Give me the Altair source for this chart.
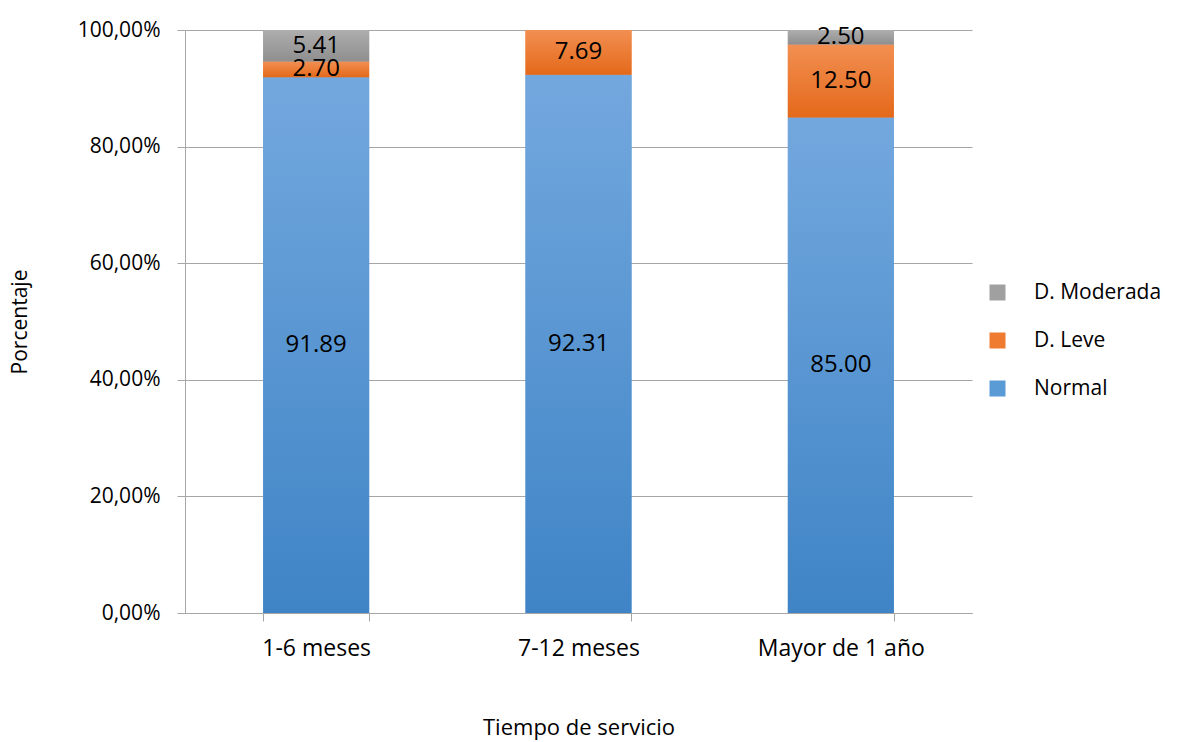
import altair as alt
import pandas as pd

tiempos = ["1-6 meses", "7-12 meses", "Mayor de 1 año"]
series = ["Normal", "D. Leve", "D. Moderada"]
normal = [91.89, 92.31, 85.00]
leve = [2.70, 7.69, 12.50]
moderada = [5.41, 0.0, 2.50]
y_ticks = [0, 20, 40, 60, 80, 100]

rows = []
for i, t in enumerate(tiempos):
    for j, (s, vals) in enumerate(zip(series, [normal, leve, moderada])):
        rows.append({"Tiempo": t, "Serie": s, "Valor": vals[i], "orden": j})
df = pd.DataFrame(rows)

FONT = "Open Sans"
legend_domain = ["D. Moderada", "D. Leve", "Normal"]
legend_range = ["#A0A0A0", "#EE7B30", "#5B9BD5"]
grads = {
    "Normal": ("#73A8DE", "#3F84C6"),
    "D. Leve": ("#F28F52", "#E4691A"),
    "D. Moderada": ("#AEAEAE", "#8E8E8E"),
}

base = alt.Chart(df).transform_stack(
    stack="Valor", groupby=["Tiempo"], as_=["y0", "y1"],
    sort=[alt.SortField("orden", order="ascending")],
)

x_enc = alt.X(
    "Tiempo:N", sort=tiempos,
    scale=alt.Scale(paddingInner=0.596, paddingOuter=0.298),
    axis=alt.Axis(title="Tiempo de servicio", labelAngle=0, tickBand="extent",
                  grid=False, labelPadding=16, titlePadding=57,
                  labelFontSize=23, titleFontSize=22),
)
y_enc = alt.Y(
    "y0:Q", scale=alt.Scale(domain=[0, 100], nice=False),
    axis=alt.Axis(values=y_ticks, title="Porcentaje", titlePadding=47,
                  labelExpr="replace(format(datum.value, '.2f'), '.', ',') + '%'",
                  labelPadding=17, labelFontSize=21, titleFontSize=21),
)

colored = base.mark_bar().encode(
    x=x_enc, y=y_enc, y2="y1:Q",
    color=alt.Color("Serie:N",
                    scale=alt.Scale(domain=legend_domain, range=legend_range),
                    legend=alt.Legend(title=None, orient="none", legendX=802, legendY=252,
                                      symbolType="square", symbolSize=256,
                                      symbolStrokeWidth=0, labelFontSize=21,
                                      labelFont=FONT, rowPadding=26, labelOffset=26)),
)

overlays = []
for s in series:
    top, bot = grads[s]
    overlays.append(
        base.transform_filter(alt.datum.Serie == s).mark_bar(
            fill=alt.Gradient(
                gradient="linear",
                stops=[alt.GradientStop(color=top, offset=0),
                       alt.GradientStop(color=bot, offset=1)],
                x1=0, x2=0, y1=0, y2=1,
            )
        ).encode(x=x_enc, y=y_enc, y2="y1:Q")
    )

labels = base.transform_filter("datum.Valor > 0").transform_calculate(
    mid="(datum.y0 + datum.y1) / 2",
    lab="format(datum.Valor, '.2f')",
).mark_text(font=FONT, fontSize=24, color="black").encode(
    x=x_enc, y=alt.Y("mid:Q"), text="lab:N"
)

chart = alt.layer(colored, *overlays, labels).properties(
    width=787, height=583,
    autosize=alt.AutoSizeParams(type="none"),
    padding={"left": 185, "top": 30, "right": 210, "bottom": 129},
).configure_view(stroke=None).configure_axis(
    labelFont=FONT, titleFont=FONT,
    labelColor="black", titleColor="black", titleFontWeight="normal",
    domainColor="#A6A6A6", tickColor="#A6A6A6", gridColor="#A6A6A6",
    tickSize=8,
)

chart.save("out.html", embed_options={"renderer": "svg", "actions": False})
